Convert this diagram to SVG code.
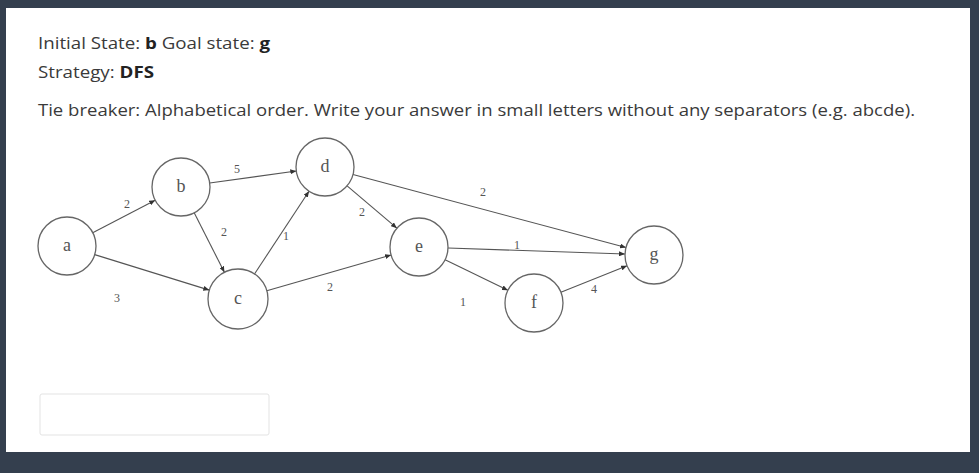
<svg xmlns="http://www.w3.org/2000/svg" width="979" height="473" viewBox="0 0 979 473">
<style>
.hdr{font-family:"Open Sans","Liberation Sans",sans-serif;font-size:16px;fill:#3a3a3a}
.b{font-weight:bold;fill:#222}
.node circle{fill:#fff;stroke:#666;stroke-width:1.3}
.node text{font-family:"Liberation Serif",serif;font-size:18px;fill:#555;text-anchor:middle}
.edges line{stroke:#555;stroke-width:1.1;marker-end:url(#ah)}
.lbl{font-family:"Liberation Serif",serif;font-size:12px;fill:#555;text-anchor:middle}
</style>
<defs>
<marker id="ah" markerUnits="userSpaceOnUse" markerWidth="6" markerHeight="5" refX="6" refY="2.5" orient="auto">
<path d="M0,0 L6,2.5 L0,5 Z" fill="#333"/>
</marker>
</defs>
<rect x="0" y="0" width="979" height="473" fill="#343f4e"/>
<rect x="6" y="8" width="964" height="444" fill="#fff"/>
<text class="hdr" x="38" y="49" textLength="232" lengthAdjust="spacingAndGlyphs">Initial State: <tspan class="b">b</tspan> Goal state: <tspan class="b">g</tspan></text>
<text class="hdr" x="38" y="78" textLength="116" lengthAdjust="spacingAndGlyphs">Strategy: <tspan class="b">DFS</tspan></text>
<text class="hdr" x="38" y="116" textLength="877" lengthAdjust="spacingAndGlyphs">Tie breaker: Alphabetical order. Write your answer in small letters without any separators (e.g. abcde).</text>
<g class="edges" id="connectors">
<line x1="92.7" y1="232.7" x2="155.2" y2="200.3"/>
<line x1="94.7" y1="254.6" x2="209.3" y2="290.1"/>
<line x1="209.7" y1="183.0" x2="296.3" y2="171.0"/>
<line x1="194.2" y1="212.8" x2="224.4" y2="272.3"/>
<line x1="254.5" y1="274.0" x2="309.0" y2="191.2"/>
<line x1="266.8" y1="290.7" x2="391.1" y2="255.0"/>
<line x1="347.1" y1="185.8" x2="396.9" y2="228.2"/>
<line x1="353.0" y1="174.5" x2="626.0" y2="247.5"/>
<line x1="448" y1="248" x2="625" y2="254"/>
<line x1="445.1" y1="259.7" x2="507.9" y2="290.3"/>
<line x1="560.9" y1="292.2" x2="627.1" y2="265.8"/>
<text class="lbl" x="127" y="208">2</text>
<text class="lbl" x="117" y="302">3</text>
<text class="lbl" x="237" y="173">5</text>
<text class="lbl" x="224" y="236">2</text>
<text class="lbl" x="286" y="240">1</text>
<text class="lbl" x="330" y="291">2</text>
<text class="lbl" x="362" y="216">2</text>
<text class="lbl" x="483" y="196">2</text>
<text class="lbl" x="517" y="249">1</text>
<text class="lbl" x="463" y="306">1</text>
<text class="lbl" x="594" y="293">4</text>
</g>
<g class="node" id="node-a"><circle cx="67" cy="246" r="29"/><text x="67" y="251">a</text></g>
<g class="node" id="node-b"><circle cx="181" cy="187" r="29"/><text x="181" y="192">b</text></g>
<g class="node" id="node-c"><circle cx="238" cy="299" r="30"/><text x="238" y="304">c</text></g>
<g class="node" id="node-d"><circle cx="325" cy="167" r="29"/><text x="325" y="172">d</text></g>
<g class="node" id="node-e"><circle cx="419" cy="247" r="29"/><text x="419" y="252">e</text></g>
<g class="node" id="node-f"><circle cx="534" cy="303" r="29"/><text x="534" y="308">f</text></g>
<g class="node" id="node-g"><circle cx="654" cy="255" r="29"/><text x="654" y="260">g</text></g>
<rect x="40" y="394" width="229" height="41" rx="2" fill="#fff" stroke="#e3e3e3"/>
</svg>
